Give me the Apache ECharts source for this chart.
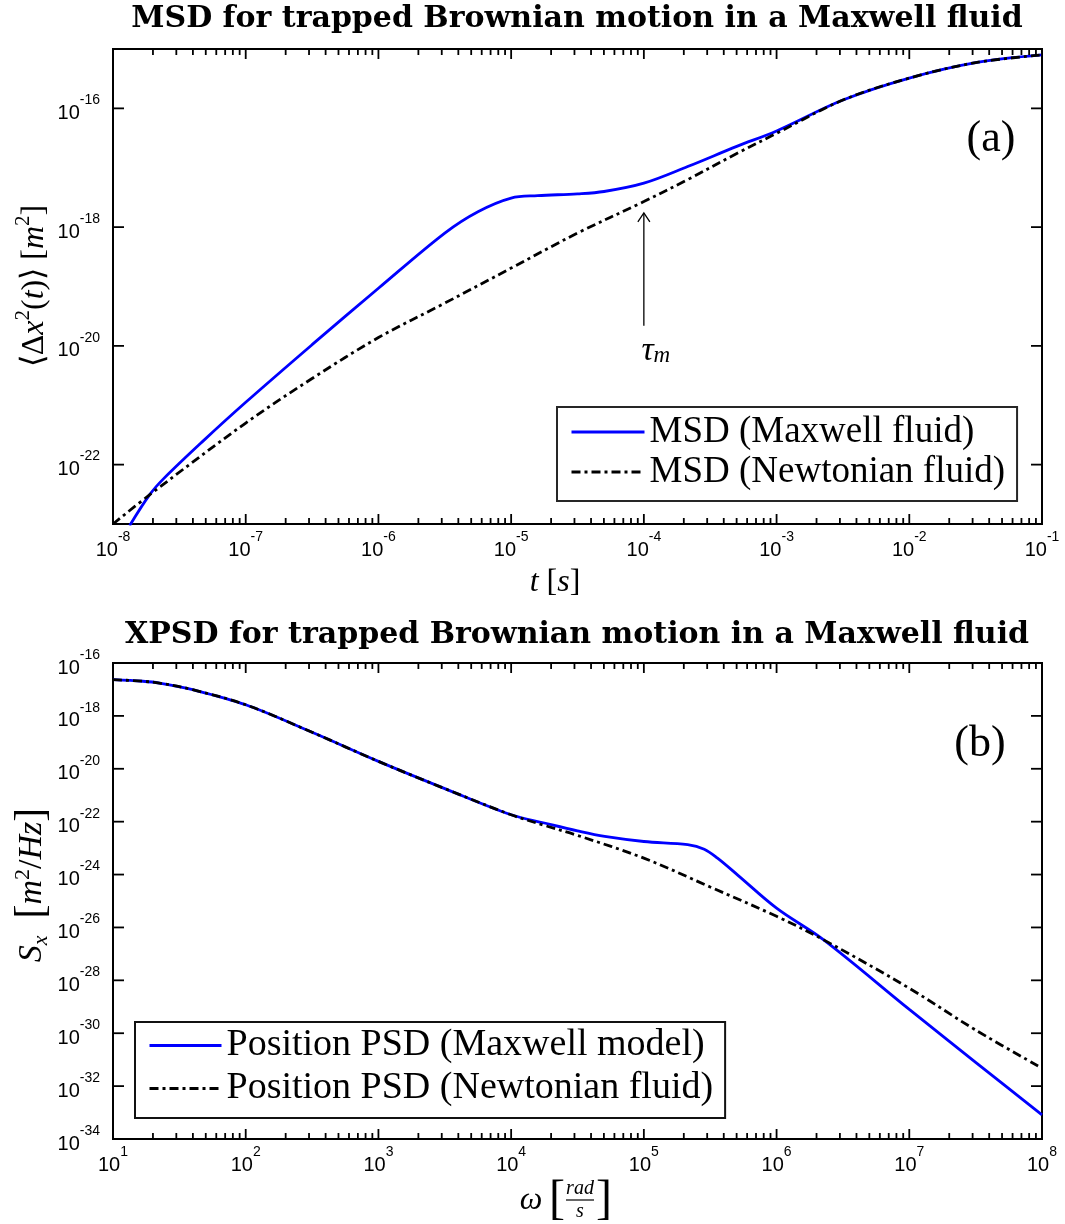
<!DOCTYPE html>
<html>
<head>
<meta charset="utf-8">
<script src="https://cdn.jsdelivr.net/npm/echarts@6/dist/echarts.min.js"></script>
<style>
html,body{margin:0;padding:0;background:#fff;}
#chart{width:1065px;height:1224px;}
</style>
</head>
<body>
<div id="chart"></div>
<script>
// ===== Panel (a): MSD, values as log10 exponents =====
const msdMaxwellLogT = [-7.875, -7.725, -7.62, -7.32, -7.0, -6.5, -6.0, -5.5, -5.25, -5.0, -4.8, -4.5, -4.3, -4.0, -3.67, -3.3, -3.0, -2.5, -2.0, -1.5, -1.0];
const msdMaxwellLog  = [-23.03, -22.51, -22.24, -21.60, -20.95, -19.98, -19.03, -18.10, -17.74, -17.51, -17.47, -17.44, -17.40, -17.26, -16.98, -16.64, -16.38, -15.86, -15.49, -15.23, -15.10];
const msdNewtonLogT  = [-8.0, -7.725, -7.0, -6.5, -6.0, -5.5, -5.0, -4.5, -4.0, -3.67, -3.3, -3.0, -2.5, -2.0, -1.5, -1.0];
const msdNewtonLog   = [-23.0, -22.51, -21.30, -20.55, -19.86, -19.28, -18.69, -18.10, -17.57, -17.20, -16.76, -16.42, -15.86, -15.49, -15.23, -15.10];

// ===== Panel (b): position PSD, log10 exponents =====
const psdMaxwellLogW = [1.0, 1.225, 1.35, 1.6, 2.0, 2.5, 3.0, 3.5, 4.0, 4.25, 4.5, 4.705, 5.0, 5.33, 5.455, 5.555, 5.705, 6.0, 6.355, 7.0, 7.5, 8.0];
const psdMaxwellLog  = [-16.63, -16.69, -16.76, -17.01, -17.58, -18.62, -19.72, -20.75, -21.74, -22.05, -22.35, -22.56, -22.75, -22.87, -23.04, -23.38, -24.01, -25.27, -26.47, -29.10, -31.10, -33.09];
const psdNewtonLogW  = [1.0, 1.225, 1.35, 1.6, 2.0, 2.5, 3.0, 3.5, 4.0, 4.25, 4.5, 5.0, 5.5, 6.0, 6.355, 7.0, 7.5, 8.0];
const psdNewtonLog   = [-16.63, -16.69, -16.76, -17.01, -17.58, -18.62, -19.72, -20.75, -21.74, -22.14, -22.52, -23.38, -24.47, -25.58, -26.47, -28.30, -29.88, -31.32];

// ===== Axis ranges / ticks (exponents) =====
const msdXRange = [-8, -1];
const msdYRange = [-23, -15];
const msdYTicks = [-22, -20, -18, -16];
const psdXRange = [1, 8];
const psdYRange = [-34, -16];
const psdYTicks = [-32, -30, -28, -26, -24, -22, -20, -18];

// ===== Annotation tau_m (data coords, exponents) =====
const tauArrow = { t: -4, from: -19.66, to: -17.76 };
const tauLabel = { t: -3.91, v: -20.08 };

const SERIF = 'Liberation Serif, Times New Roman, serif';
const SANS = 'Liberation Sans, Arial, Helvetica, sans-serif';

function zip(a, b) { return a.map((v, i) => [v, b[i]]); }
function decades(r) { const o = []; for (let n = r[0]; n <= r[1]; n++) o.push(n); return o; }
function minorTicks(r) {
  const o = [];
  for (let n = r[0]; n < r[1]; n++) for (let k = 2; k <= 9; k++) o.push(n + Math.log10(k));
  return o;
}

const labelRich = {
  b: { fontFamily: SANS, fontSize: 20, color: '#000', lineHeight: 30, verticalAlign: 'bottom' },
  s: { fontFamily: SANS, fontSize: 14, color: '#000', lineHeight: 14, verticalAlign: 'top' }
};
function powLabel(v) { return '{b|10}{s|' + Math.round(v) + '}'; }

function xTickSeries(idx, values, len, yRef) {
  return {
    type: 'custom', xAxisIndex: idx, yAxisIndex: idx, silent: true, clip: false, z: 6,
    data: values.map(v => [v, yRef]),
    renderItem: function (params, api) {
      const cs = params.coordSys;
      const x = api.coord([api.value(0), api.value(1)])[0];
      const st = { stroke: '#000', lineWidth: 1.8 };
      return { type: 'group', children: [
        { type: 'line', shape: { x1: x, y1: cs.y + cs.height, x2: x, y2: cs.y + cs.height - len }, style: st },
        { type: 'line', shape: { x1: x, y1: cs.y, x2: x, y2: cs.y + len }, style: st }
      ]};
    }
  };
}
function yTickSeries(idx, values, len, xRef) {
  return {
    type: 'custom', xAxisIndex: idx, yAxisIndex: idx, silent: true, clip: false, z: 6,
    data: values.map(v => [xRef, v]),
    renderItem: function (params, api) {
      const cs = params.coordSys;
      const y = api.coord([api.value(0), api.value(1)])[1];
      const st = { stroke: '#000', lineWidth: 1.8 };
      return { type: 'group', children: [
        { type: 'line', shape: { x1: cs.x, y1: y, x2: cs.x + len, y2: y }, style: st },
        { type: 'line', shape: { x1: cs.x + cs.width, y1: y, x2: cs.x + cs.width - len, y2: y }, style: st }
      ]};
    }
  };
}

const tauSeries = {
  type: 'custom', xAxisIndex: 0, yAxisIndex: 0, silent: true, clip: false, z: 7,
  data: [[tauArrow.t, tauArrow.from, tauArrow.to, tauLabel.t, tauLabel.v]],
  renderItem: function (params, api) {
    const p0 = api.coord([api.value(0), api.value(1)]);
    const p1 = api.coord([api.value(0), api.value(2)]);
    const pl = api.coord([api.value(3), api.value(4)]);
    const st = { stroke: '#000', lineWidth: 1.3, fill: null };
    return { type: 'group', children: [
      { type: 'line', shape: { x1: p0[0], y1: p0[1], x2: p1[0], y2: p1[1] }, style: st },
      { type: 'polyline', shape: { points: [[p1[0] - 6, p1[1] + 9], [p1[0], p1[1]], [p1[0] + 6, p1[1] + 9]] }, style: st },
      { type: 'text', x: pl[0], y: pl[1], style: {
          text: '{g|τ}{m|m}', align: 'center', verticalAlign: 'middle',
          rich: {
            g: { fontFamily: SERIF, fontStyle: 'italic', fontSize: 34, color: '#000', lineHeight: 34, verticalAlign: 'top' },
            m: { fontFamily: SERIF, fontStyle: 'italic', fontSize: 23, color: '#000', lineHeight: 22, verticalAlign: 'bottom' }
          } } }
    ]};
  }
};

const lineCommon = { symbol: 'none', showSymbol: false, smooth: 0.35 };
const legendHideSymbol = { opacity: 0, color: 'rgba(0,0,0,0)', borderWidth: 0 };
const dashDot = [9, 4, 3, 4];

const option = {
  animation: false,
  backgroundColor: '#fff',
  grid: [
    { left: 113, top: 49, width: 929, height: 475, show: true, borderColor: '#000', borderWidth: 2, backgroundColor: 'transparent' },
    { left: 113, top: 663, width: 929, height: 476, show: true, borderColor: '#000', borderWidth: 2, backgroundColor: 'transparent' }
  ],
  xAxis: [
    { type: 'value', gridIndex: 0, min: msdXRange[0], max: msdXRange[1], interval: 1,
      axisLine: { show: false }, axisTick: { show: false }, splitLine: { show: false },
      axisLabel: { formatter: powLabel, rich: labelRich, margin: 6 } },
    { type: 'value', gridIndex: 1, min: psdXRange[0], max: psdXRange[1], interval: 1,
      axisLine: { show: false }, axisTick: { show: false }, splitLine: { show: false },
      axisLabel: { formatter: powLabel, rich: labelRich, margin: 6 } }
  ],
  yAxis: [
    { type: 'value', gridIndex: 0, min: msdYRange[0], max: msdYRange[1], interval: 1,
      axisLine: { show: false }, axisTick: { show: false }, splitLine: { show: false },
      axisLabel: { formatter: v => (Math.round(v) % 2 === 0 ? powLabel(v) : ''), rich: labelRich, margin: 13 } },
    { type: 'value', gridIndex: 1, min: psdYRange[0], max: psdYRange[1], interval: 2,
      axisLine: { show: false }, axisTick: { show: false }, splitLine: { show: false },
      axisLabel: { formatter: powLabel, rich: labelRich, margin: 13 } }
  ],
  legend: [
    { data: ['MSD (Maxwell fluid)', 'MSD (Newtonian fluid)'], orient: 'vertical', left: 557, top: 407,
      itemWidth: 73, itemHeight: 20, itemGap: 0, padding: [5, 12, 9, 13], z: 10,
      backgroundColor: '#fff', borderColor: '#262626', borderWidth: 2, selectedMode: false,
      itemStyle: legendHideSymbol, lineStyle: { width: 3 },
      textStyle: { fontFamily: SERIF, fontSize: 37, color: '#000', lineHeight: 40 } },
    { data: ['Position PSD (Maxwell model)', 'Position PSD (Newtonian fluid)'], orient: 'vertical', left: 135, top: 1022,
      itemWidth: 72, itemHeight: 20, itemGap: 0, padding: [2, 12, 8, 13], z: 10,
      backgroundColor: '#fff', borderColor: '#111', borderWidth: 2, selectedMode: false,
      itemStyle: legendHideSymbol, lineStyle: { width: 3 },
      textStyle: { fontFamily: SERIF, fontSize: 38, color: '#000', lineHeight: 43 } }
  ],
  series: [
    Object.assign({ type: 'line', name: 'MSD (Maxwell fluid)', xAxisIndex: 0, yAxisIndex: 0, data: zip(msdMaxwellLogT, msdMaxwellLog), z: 3,
      lineStyle: { color: '#0000ff', width: 2.8 }, itemStyle: { color: '#0000ff' } }, lineCommon),
    Object.assign({ type: 'line', name: 'MSD (Newtonian fluid)', xAxisIndex: 0, yAxisIndex: 0, data: zip(msdNewtonLogT, msdNewtonLog), z: 4,
      lineStyle: { color: '#000', width: 2.8, type: dashDot }, itemStyle: { color: '#000' } }, lineCommon),
    Object.assign({ type: 'line', name: 'Position PSD (Maxwell model)', xAxisIndex: 1, yAxisIndex: 1, data: zip(psdMaxwellLogW, psdMaxwellLog), z: 3,
      lineStyle: { color: '#0000ff', width: 2.8 }, itemStyle: { color: '#0000ff' } }, lineCommon),
    Object.assign({ type: 'line', name: 'Position PSD (Newtonian fluid)', xAxisIndex: 1, yAxisIndex: 1, data: zip(psdNewtonLogW, psdNewtonLog), z: 4,
      lineStyle: { color: '#000', width: 2.8, type: dashDot }, itemStyle: { color: '#000' } }, lineCommon),
    xTickSeries(0, decades(msdXRange), 10, msdYRange[0]),
    xTickSeries(0, minorTicks(msdXRange), 6, msdYRange[0]),
    yTickSeries(0, msdYTicks, 11, msdXRange[0]),
    xTickSeries(1, decades(psdXRange), 10, psdYRange[0]),
    xTickSeries(1, minorTicks(psdXRange), 6, psdYRange[0]),
    yTickSeries(1, psdYTicks, 11, psdXRange[0]),
    tauSeries
  ],
  graphic: [
    { type: 'text', x: 577, y: 19, style: { text: 'MSD for trapped Brownian motion in a Maxwell fluid',
        font: 'bold 30px DejaVu Serif', fill: '#000', textAlign: 'center', textVerticalAlign: 'middle' } },
    { type: 'text', x: 577, y: 635, style: { text: 'XPSD for trapped Brownian motion in a Maxwell fluid',
        font: 'bold 30px DejaVu Serif', fill: '#000', textAlign: 'center', textVerticalAlign: 'middle' } },
    { type: 'text', x: 991, y: 139, z: 8, style: { text: '(a)', font: '44px Liberation Serif', fill: '#000', textAlign: 'center', textVerticalAlign: 'middle' } },
    { type: 'text', x: 980, y: 744, z: 8, style: { text: '(b)', font: '44px Liberation Serif', fill: '#000', textAlign: 'center', textVerticalAlign: 'middle' } },
    // x-axis name (a)
    { type: 'text', x: 555, y: 583, style: { text: '{i|t} [{i|s}]', font: '32px Liberation Serif', fill: '#000',
        textAlign: 'center', textVerticalAlign: 'middle',
        rich: { i: { fontFamily: SERIF, fontStyle: 'italic', fontSize: 32, color: '#000' } } } },
    // x-axis name (b): omega [rad/s]
    { type: 'group', children: [
      { type: 'text', x: 531, y: 1201, style: { text: 'ω', font: 'italic 32px Liberation Serif', fill: '#000', textAlign: 'center', textVerticalAlign: 'middle' } },
      { type: 'text', x: 557, y: 1200, style: { text: '[', font: '48px Liberation Serif', fill: '#000', textAlign: 'center', textVerticalAlign: 'middle' } },
      { type: 'text', x: 580, y: 1189, style: { text: 'rad', font: 'italic 20px Liberation Serif', fill: '#000', textAlign: 'center', textVerticalAlign: 'middle' } },
      { type: 'line', shape: { x1: 566, y1: 1200, x2: 594, y2: 1200 }, style: { stroke: '#000', lineWidth: 1.2 } },
      { type: 'text', x: 580, y: 1212, style: { text: 's', font: 'italic 20px Liberation Serif', fill: '#000', textAlign: 'center', textVerticalAlign: 'middle' } },
      { type: 'text', x: 604, y: 1200, style: { text: ']', font: '48px Liberation Serif', fill: '#000', textAlign: 'center', textVerticalAlign: 'middle' } }
    ]},
    // y-axis name (a)
    { type: 'text', x: 32, y: 286, rotation: Math.PI / 2, style: {
        text: '{r|⟨Δ}{i|x}{p|2}{r|(}{i|t}{r|)⟩ [}{i|m}{p|2}{r|]}', textAlign: 'center', textVerticalAlign: 'middle',
        rich: {
          r: { fontFamily: SERIF, fontSize: 32, color: '#000', lineHeight: 38, verticalAlign: 'bottom' },
          i: { fontFamily: SERIF, fontStyle: 'italic', fontSize: 32, color: '#000', lineHeight: 38, verticalAlign: 'bottom' },
          p: { fontFamily: SERIF, fontSize: 21, color: '#000', lineHeight: 20, verticalAlign: 'top' }
        } } },
    // y-axis name (b)
    { type: 'text', x: 32, y: 885, rotation: Math.PI / 2, style: {
        text: '{i|S}{sb|x}{r|  }{b|[}{i|m}{p|2}{r|/}{i|Hz}{b|]}', textAlign: 'center', textVerticalAlign: 'middle',
        rich: {
          r: { fontFamily: SERIF, fontSize: 34, color: '#000', lineHeight: 40, verticalAlign: 'middle' },
          b: { fontFamily: SERIF, fontSize: 42, color: '#000', lineHeight: 40, verticalAlign: 'middle' },
          i: { fontFamily: SERIF, fontStyle: 'italic', fontSize: 34, color: '#000', lineHeight: 40, verticalAlign: 'middle' },
          p: { fontFamily: SERIF, fontSize: 22, color: '#000', lineHeight: 20, verticalAlign: 'top' },
          sb: { fontFamily: SERIF, fontStyle: 'italic', fontSize: 22, color: '#000', lineHeight: 20, verticalAlign: 'bottom' }
        } } }
  ]
};

const chart = echarts.init(document.getElementById('chart'), null, { renderer: 'canvas' });
chart.setOption(option);
</script>
</body>
</html>
